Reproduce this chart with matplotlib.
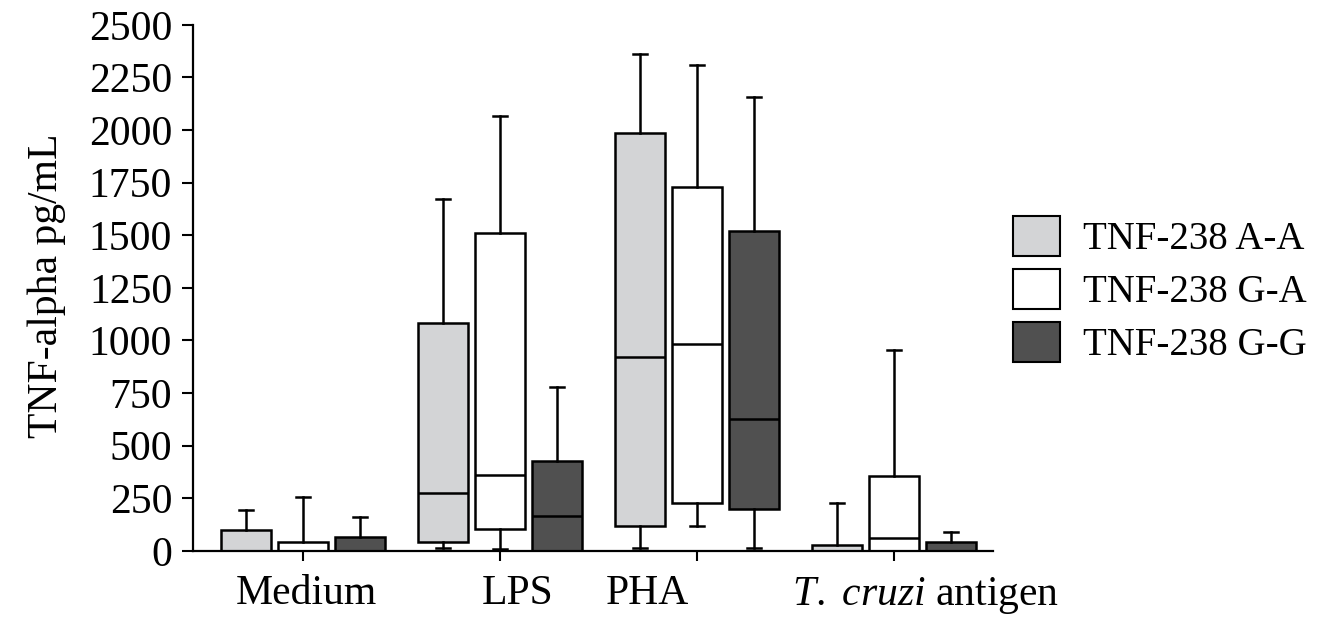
import matplotlib
matplotlib.use("Agg")
import matplotlib.pyplot as plt
from matplotlib.patches import Patch

plt.rcParams["font.family"] = ["Liberation Serif", "DejaVu Serif"]
plt.rcParams["mathtext.fontset"] = "custom"
plt.rcParams["mathtext.rm"] = "Liberation Serif"
plt.rcParams["mathtext.it"] = "Liberation Serif:italic"

groups = ["Medium", "LPS", "PHA", r"$\it{T.\ cruzi}$ antigen"]
genotypes = ["TNF-238 A-A", "TNF-238 G-A", "TNF-238 G-G"]
colors = ["#d3d4d6", "#ffffff", "#505050"]

# (whislo, q1, median, q3, whishi) per group
aa = [(0, 0, 0, 100, 194), (14, 41, 274, 1082, 1674),
      (12, 116, 920, 1985, 2362), (0, 0, 0, 28, 227)]
ga = [(0, 0, 0, 40, 254), (10, 103, 361, 1510, 2067),
      (116, 227, 982, 1729, 2311), (0, 0, 63, 356, 955)]
gg = [(0, 0, 0, 68, 162), (0, 0, 166, 428, 781),
      (14, 198, 626, 1518, 2155), (0, 0, 0, 40, 92)]
series = [aa, ga, gg]

yticks = list(range(0, 2501, 250))
label_pos = [0.02, 1.09, 1.75, 3.16]

fig = plt.figure(figsize=(13.42, 6.19), dpi=100)
ax = fig.add_axes([0.1438, 0.11, 0.596, 0.85])

offsets = [-0.29, 0.0, 0.29]
lw = 1.8
for s, vals in enumerate(series):
    stats = []
    for lo, q1, med, q3, hi in vals:
        stats.append(dict(whislo=lo, q1=q1, med=med, q3=q3, whishi=hi, fliers=[]))
    pos = [i + offsets[s] for i in range(len(groups))]
    ax.bxp(stats, positions=pos, widths=0.254, capwidths=0.07, patch_artist=True,
           showfliers=False, manage_ticks=False,
           boxprops=dict(facecolor=colors[s], edgecolor="black", linewidth=lw),
           medianprops=dict(color="black", linewidth=lw),
           whiskerprops=dict(color="black", linewidth=lw),
           capprops=dict(color="black", linewidth=lw),
           zorder=3)

ax.set_xlim(-0.558, 3.503)
ax.set_ylim(0, 2500)
ax.set_yticks(yticks)
ax.set_yticklabels([str(v) for v in yticks])
ax.set_xticks(range(len(groups)))
ax.set_xticklabels([])
ax.set_xticks(label_pos, minor=True)
ax.set_xticklabels(groups, minor=True)
ax.tick_params(axis="x", which="minor", length=0, labelsize=30, pad=17)
ax.tick_params(axis="x", which="major", length=7, width=1.5, direction="out")
ax.tick_params(axis="y", length=8, width=1.5, labelsize=30, pad=7)
for sp in ["top", "right"]:
    ax.spines[sp].set_visible(False)
for sp in ["left", "bottom"]:
    ax.spines[sp].set_linewidth(1.6)
ax.spines["bottom"].set_zorder(4)

ax.set_ylabel("TNF-alpha pg/mL", fontsize=30)
ax.yaxis.set_label_coords(-0.159, 0.504)

handles = [Patch(facecolor=c, edgecolor="black", linewidth=1.5) for c in colors]
fig.legend(handles, genotypes, loc="center left", bbox_to_anchor=(0.755, 0.531),
           frameon=False, fontsize=28, handlelength=1.2, handleheight=1.2,
           handletextpad=0.6, labelspacing=0.28, borderpad=0, borderaxespad=0)

fig.savefig("out.png", dpi=100)
